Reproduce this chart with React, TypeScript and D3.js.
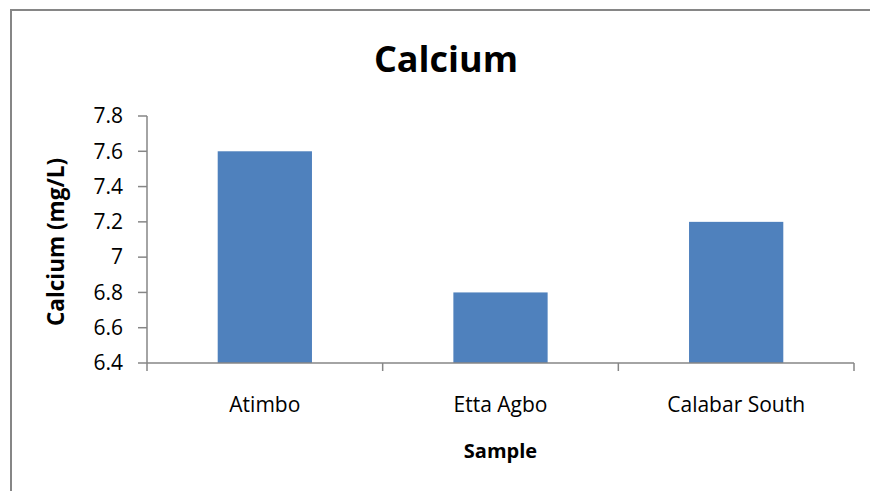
import React from "react";
import * as d3 from "d3";

// Calcium concentration per sampling site (mg/L)
const samples: string[] = ["Atimbo", "Etta Agbo", "Calabar South"];
const calcium: number[] = [7.6, 6.8, 7.2];
const yTicks: number[] = [6.4, 6.6, 6.8, 7.0, 7.2, 7.4, 7.6, 7.8];

const W = 870;
const H = 491;
const plot = { left: 147, right: 854, top: 116, bottom: 363 };
const axisColor = "#868686";
const barColor = "#4F81BD";
const font = "'Open Sans', sans-serif";

export default function App() {
  const x = d3
    .scaleBand<string>()
    .domain(samples)
    .range([plot.left, plot.right])
    .paddingInner(0.6)
    .paddingOuter(0.3);
  const step = x.step();
  const y = d3.scaleLinear().domain([6.4, 7.8]).range([plot.bottom, plot.top]);
  const fmt = (v: number) => d3.format("")(+v.toFixed(1));

  // boundaries between categories for the x-axis tick marks
  const boundaries = d3.range(samples.length + 1).map((i) => plot.left + i * step);

  return (
    <svg
      width={W}
      height={H}
      style={{ position: "absolute", left: 0, top: 0, background: "#fff" }}
      fontFamily={font}
    >
      <rect x={0} y={0} width={W} height={H} fill="#fff" />
      <rect x={11} y={10} width={W + 20} height={H + 20} fill="none" stroke={axisColor} strokeWidth={2} />

      <text x={446} y={72} textAnchor="middle" fontSize={36} fontWeight="bold" fill="#000">
        Calcium
      </text>

      {samples.map((s, i) => (
        <rect
          key={s}
          x={x(s)}
          y={y(calcium[i])}
          width={x.bandwidth()}
          height={y(6.4) - y(calcium[i])}
          fill={barColor}
        />
      ))}

      {/* y axis */}
      <line x1={plot.left} x2={plot.left} y1={plot.top} y2={plot.bottom} stroke={axisColor} strokeWidth={1.5} />
      {yTicks.map((t) => (
        <g key={t}>
          <line x1={plot.left - 9} x2={plot.left} y1={y(t)} y2={y(t)} stroke={axisColor} strokeWidth={1.5} />
          <text
            x={123}
            y={y(t)}
            dy="0.35em"
            textAnchor="end"
            fontSize={21}
            fill="#000"
          >
            {fmt(t)}
          </text>
        </g>
      ))}

      {/* x axis */}
      <line x1={plot.left} x2={plot.right} y1={plot.bottom} y2={plot.bottom} stroke={axisColor} strokeWidth={1.5} />
      {boundaries.map((bx, i) => (
        <line key={i} x1={bx} x2={bx} y1={plot.bottom} y2={plot.bottom + 8} stroke={axisColor} strokeWidth={1.5} />
      ))}
      {samples.map((s) => (
        <text
          key={s}
          x={(x(s) as number) + x.bandwidth() / 2}
          y={412}
          textAnchor="middle"
          fontSize={21}
          fill="#000"
        >
          {s}
        </text>
      ))}

      <text x={(plot.left + plot.right) / 2} y={458} textAnchor="middle" fontSize={20} fontWeight="bold" fill="#000">
        Sample
      </text>
      <text
        transform={`translate(64, 242) rotate(-90)`}
        textAnchor="middle"
        fontSize={22.5}
        fontWeight="bold"
        fill="#000"
      >
        Calcium (mg/L)
      </text>
    </svg>
  );
}
